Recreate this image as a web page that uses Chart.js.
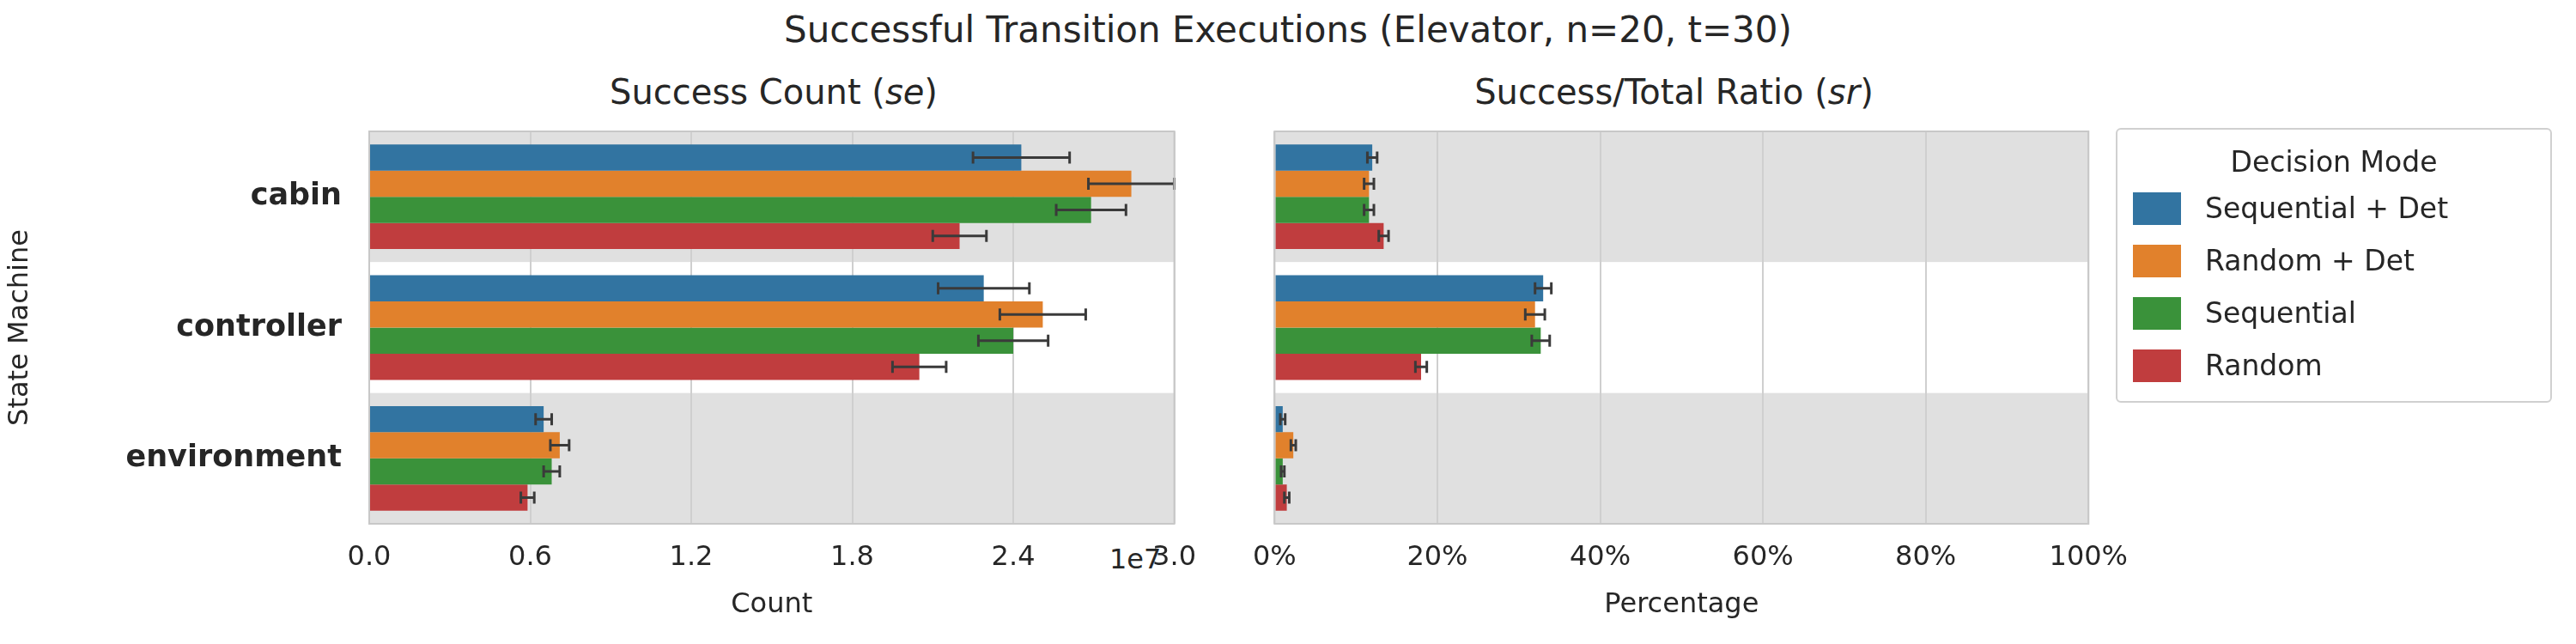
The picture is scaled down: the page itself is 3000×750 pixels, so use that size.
<!DOCTYPE html>
<html>
<head>
<meta charset="utf-8">
<script src="https://cdn.jsdelivr.net/npm/chart.js@4"></script>
<style>
body { margin: 0; width: 3000px; height: 750px; background: #fff; font-family: "DejaVu Sans", sans-serif; color: #262626; position: relative; overflow: hidden; }
canvas { position: absolute; top: 0; }
.t { position: absolute; white-space: nowrap; }
#legend { position: absolute; left: 2464px; top: 149px; width: 508px; height: 320px; border: 2px solid #d0d0d0; border-radius: 6px; box-sizing: border-box; font-size: 33px; }
#legend .head { text-align: center; margin-top: 18px; margin-bottom: 4px; }
#legend .row { display: flex; align-items: center; height: 61px; padding-left: 18px; }
#legend .sw { width: 56px; height: 38px; margin-right: 28px; }
</style>
</head>
<body>
<div class="t" style="left:0;width:3000px;text-align:center;top:10px;font-size:42px">Successful Transition Executions (Elevator, n=20, t=30)</div>
<div class="t" style="left:430px;width:942px;text-align:center;top:84px;font-size:40px">Success Count (<i>se</i>)</div>
<div class="t" style="left:1479px;width:941px;text-align:center;top:84px;font-size:40px">Success/Total Ratio (<i>sr</i>)</div>
<div class="t" style="left:1292px;top:632px;font-size:32px">1e7</div>
<canvas id="left" width="1413" height="750" style="left:0;width:1413px;height:750px"></canvas>
<canvas id="right" width="1059" height="750" style="left:1439px;width:1059px;height:750px"></canvas>
<div id="legend"></div>
<script>
var categories = ['cabin', 'controller', 'environment'];
var modes = ['Sequential + Det', 'Random + Det', 'Sequential', 'Random'];
var colors = ['#3274a1', '#e1812c', '#3a923a', '#c03d3e'];

// success counts per mode, cabin / controller / environment
var countSeqDet = [24300000, 22900000, 6500000];
var countRandDet = [28400000, 25100000, 7100000];
var countSeq = [26900000, 24000000, 6800000];
var countRand = [22000000, 20500000, 5900000];
var countErrSeqDet = [1800000, 1700000, 300000];
var countErrRandDet = [1600000, 1600000, 350000];
var countErrSeq = [1300000, 1300000, 300000];
var countErrRand = [1000000, 1000000, 250000];

// success/total ratio in percent
var ratioSeqDet = [12.0, 33.0, 1.0];
var ratioRandDet = [11.6, 32.0, 2.3];
var ratioSeq = [11.6, 32.7, 1.0];
var ratioRand = [13.4, 18.0, 1.5];
var ratioErrSeqDet = [0.6, 1.0, 0.3];
var ratioErrRandDet = [0.6, 1.2, 0.3];
var ratioErrSeq = [0.6, 1.1, 0.2];
var ratioErrRand = [0.6, 0.7, 0.3];

var countTicks = [0, 6000000, 12000000, 18000000, 24000000, 30000000];
var ratioTicks = [0, 20, 40, 60, 80, 100];

Chart.defaults.font.family = '"DejaVu Sans", sans-serif';
Chart.defaults.color = '#262626';
Chart.defaults.animation = false;

var bandsPlugin = {
    id: 'bands',
    beforeDraw: function (chart) {
        var ctx = chart.ctx, a = chart.chartArea;
        var n = categories.length, h = (a.bottom - a.top) / n;
        ctx.save();
        for (var i = 0; i < n; i++) {
            ctx.fillStyle = i % 2 === 0 ? '#e0e0e0' : '#ffffff';
            ctx.fillRect(a.left, a.top + i * h, a.right - a.left, h);
        }
        ctx.restore();
    },
    afterDraw: function (chart) {
        var ctx = chart.ctx, a = chart.chartArea;
        ctx.save();
        ctx.strokeStyle = '#c8c8c8';
        ctx.lineWidth = 2;
        ctx.strokeRect(a.left, a.top, a.right - a.left, a.bottom - a.top);
        ctx.restore();
    }
};

var errorPlugin = {
    id: 'errors',
    afterDatasetsDraw: function (chart) {
        var ctx = chart.ctx, x = chart.scales.x;
        ctx.save();
        ctx.strokeStyle = '#3a3a3a';
        ctx.lineWidth = 3;
        chart.data.datasets.forEach(function (ds, di) {
            var meta = chart.getDatasetMeta(di);
            meta.data.forEach(function (bar, i) {
                var v = ds.data[i], e = ds.err[i];
                var x0 = x.getPixelForValue(v - e), x1 = x.getPixelForValue(v + e);
                ctx.beginPath();
                ctx.moveTo(x0, bar.y); ctx.lineTo(x1, bar.y);
                ctx.moveTo(x0, bar.y - 7); ctx.lineTo(x0, bar.y + 7);
                ctx.moveTo(x1, bar.y - 7); ctx.lineTo(x1, bar.y + 7);
                ctx.stroke();
            });
        });
        ctx.restore();
    }
};

function makeDatasets(values, errs) {
    return modes.map(function (m, i) {
        return {
            label: m,
            data: values[i],
            err: errs[i],
            backgroundColor: colors[i],
            categoryPercentage: 0.8,
            barPercentage: 1.0
        };
    });
}

function makeChart(id, values, errs, opts) {
    return new Chart(document.getElementById(id), {
        type: 'bar',
        data: { labels: categories, datasets: makeDatasets(values, errs) },
        plugins: [bandsPlugin, errorPlugin],
        options: {
            indexAxis: 'y',
            responsive: false,
            layout: { padding: { top: 153, right: opts.padRight, left: 0, bottom: 22 } },
            plugins: { legend: { display: false }, tooltip: { enabled: false } },
            scales: {
                x: {
                    min: 0, max: opts.max,
                    afterBuildTicks: function (s) { s.ticks = opts.ticks.map(function (v) { return { value: v }; }); },
                    afterFit: function (s) { s.height = 118; },
                    grid: { color: '#cfcfcf', lineWidth: 2, drawTicks: false },
                    border: { display: false },
                    ticks: { font: { size: 32 }, padding: 20, callback: opts.fmt, maxRotation: 0 },
                    title: { display: true, text: opts.xTitle, font: { size: 32 }, padding: { top: 4 } }
                },
                y: {
                    afterFit: function (s) { s.width = opts.yWidth; },
                    grid: { display: false },
                    border: { display: false },
                    ticks: { display: opts.yLabels, font: { size: 35, weight: 'bold' }, padding: 24 },
                    title: { display: opts.yLabels, text: 'State Machine', font: { size: 32 } }
                }
            }
        }
    });
}

makeChart('left',
    [countSeqDet, countRandDet, countSeq, countRand],
    [countErrSeqDet, countErrRandDet, countErrSeq, countErrRand],
    { max: 30000000, ticks: countTicks, xTitle: 'Count', padRight: 8, yWidth: 430, yLabels: true,
      fmt: function (v) { return (v / 1e7).toFixed(1); } });

makeChart('right',
    [ratioSeqDet, ratioRandDet, ratioSeq, ratioRand],
    [ratioErrSeqDet, ratioErrRandDet, ratioErrSeq, ratioErrRand],
    { max: 100, ticks: ratioTicks, xTitle: 'Percentage', padRight: 30, yWidth: 9, yLabels: false,
      fmt: function (v) { return v + '%'; } });

var legend = document.getElementById('legend');
var html = '<div class="head">Decision Mode</div>';
modes.forEach(function (m, i) {
    html += '<div class="row"><div class="sw" style="background:' + colors[i] + '"></div>' + m + '</div>';
});
legend.innerHTML = html;
</script>
</body>
</html>
